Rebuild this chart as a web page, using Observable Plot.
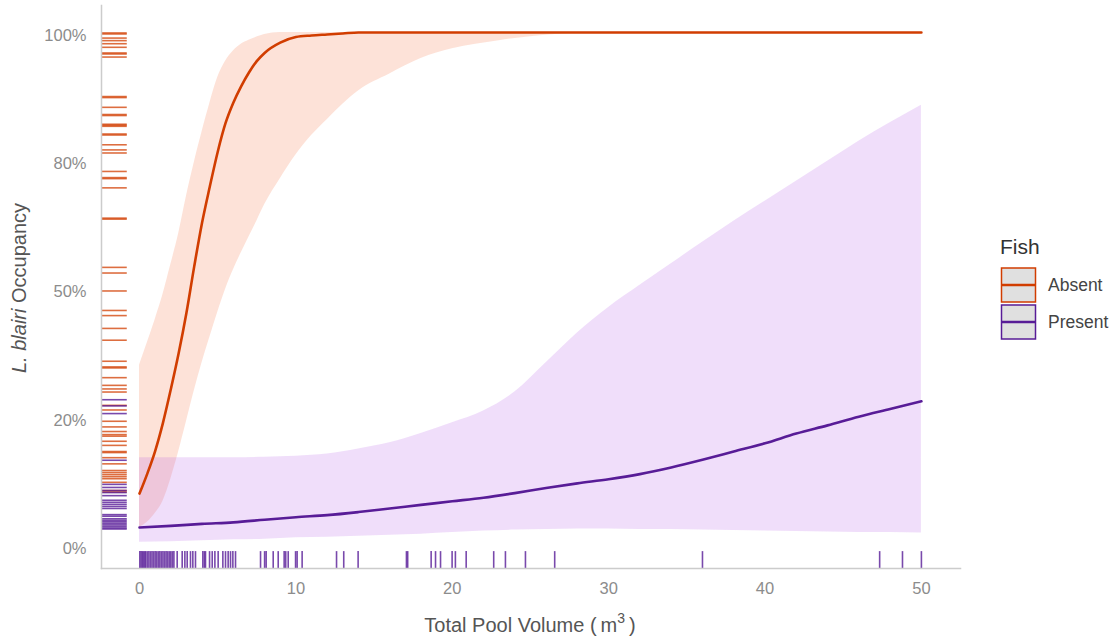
<!DOCTYPE html>
<html><head><meta charset="utf-8">
<script src="https://cdn.jsdelivr.net/npm/d3@7"></script>
<script src="https://cdn.jsdelivr.net/npm/@observablehq/plot@0.6"></script>
<style>
body{margin:0;background:#fff;}
#chart{width:1115px;height:640px;position:relative;}
</style></head><body><div id="chart"></div>
<script>
// ---------- data ----------
const groups = ["Absent", "Present"];
const lineColors = ["#D13D00", "#581C97"];
const ribbonColors = ["#F5703A", "#B55CE8"];

const xTicks = [0, 10, 20, 30, 40, 50];
const yTicks = [0, 0.25, 0.5, 0.75, 1];
const yTickLabels = ["0%", "20%", "50%", "80%", "100%"];

// Fish absent: fitted curve and ribbon
const absentX   = [0, 0.5, 1, 1.5, 2, 2.5, 3, 3.5, 4, 4.5, 5, 5.5, 6, 6.5, 7, 7.5, 8, 9, 10, 11, 12, 13, 14, 16, 18, 20, 23, 27, 30, 40, 50];
const absentFit = [0.107, 0.146, 0.190, 0.245, 0.310, 0.380, 0.459, 0.550, 0.635, 0.706, 0.773, 0.829, 0.869, 0.901, 0.928, 0.950, 0.966, 0.986, 0.997, 1.000, 1.002, 1.004, 1.006, 1.006, 1.006, 1.006, 1.006, 1.006, 1.006, 1.006, 1.006];
const absentHi  = [0.357, 0.401, 0.446, 0.495, 0.553, 0.613, 0.686, 0.752, 0.812, 0.868, 0.918, 0.950, 0.970, 0.983, 0.991, 0.997, 1.002, 1.006, 1.006, 1.006, 1.006, 1.006, 1.006, 1.006, 1.006, 1.006, 1.006, 1.006, 1.006, 1.006, 1.006];
const absentLo  = [0.041, 0.051, 0.068, 0.092, 0.135, 0.188, 0.247, 0.307, 0.362, 0.412, 0.460, 0.505, 0.543, 0.576, 0.607, 0.638, 0.670, 0.721, 0.767, 0.805, 0.836, 0.866, 0.892, 0.925, 0.955, 0.974, 0.990, 1.003, 1.006, 1.006, 1.006];

// Fish present: fitted curve and ribbon
const presentX   = [0, 2, 4, 6, 8, 10, 12, 14, 16, 18, 20, 22, 24, 26, 28, 30, 32, 34, 36, 38, 40, 42, 44, 46, 48, 50];
const presentFit = [0.041, 0.044, 0.048, 0.051, 0.056, 0.061, 0.065, 0.071, 0.078, 0.085, 0.092, 0.099, 0.108, 0.118, 0.127, 0.135, 0.145, 0.158, 0.173, 0.189, 0.205, 0.224, 0.240, 0.257, 0.272, 0.287];
const presentHi  = [0.177, 0.177, 0.177, 0.177, 0.178, 0.180, 0.184, 0.194, 0.206, 0.224, 0.245, 0.268, 0.305, 0.362, 0.420, 0.470, 0.513, 0.555, 0.597, 0.638, 0.677, 0.716, 0.755, 0.794, 0.830, 0.864];
const presentLo  = [0.012, 0.013, 0.015, 0.017, 0.018, 0.021, 0.022, 0.024, 0.026, 0.028, 0.031, 0.034, 0.036, 0.037, 0.038, 0.038, 0.037, 0.037, 0.036, 0.035, 0.034, 0.033, 0.032, 0.031, 0.031, 0.030];

// left rug (occupancy values)
const absentRug = [1.005, 1.003, 0.995, 0.990, 0.984, 0.977, 0.966, 0.964, 0.958, 0.881, 0.879, 0.860, 0.846, 0.844, 0.827, 0.825, 0.823, 0.808, 0.806, 0.787, 0.777, 0.771, 0.735, 0.723, 0.721, 0.703, 0.644, 0.642, 0.548, 0.537, 0.502, 0.464, 0.454, 0.429, 0.406, 0.365, 0.354, 0.352, 0.333, 0.318, 0.311, 0.305, 0.279, 0.270, 0.248, 0.237, 0.228, 0.222, 0.219, 0.209, 0.201, 0.189, 0.187, 0.177, 0.165, 0.152, 0.148, 0.144, 0.140, 0.136, 0.129, 0.113, 0.110];
const presentRug = [0.290, 0.278, 0.263, 0.172, 0.125, 0.119, 0.113, 0.109, 0.103, 0.094, 0.090, 0.086, 0.082, 0.078, 0.066, 0.063, 0.058, 0.055, 0.052, 0.049, 0.046, 0.043, 0.040, 0.038];

// bottom rug (pool volumes)
const volumeRug = [0.02, 0.1, 0.18, 0.25, 0.33, 0.4, 0.5, 0.6, 0.7, 0.8, 0.9, 1.0, 1.1, 1.2, 1.3, 1.4, 1.5, 1.6, 1.7, 1.8, 1.9, 2.0, 2.1, 2.2,
  2.41, 2.73, 2.90, 3.05, 3.26, 3.41, 3.58, 4.05, 4.15, 4.22, 4.48, 4.65, 4.82, 5.03, 5.33, 5.50, 5.67, 5.82, 5.97, 6.14,
  7.74, 8.0, 8.1, 8.55, 8.87, 9.25, 9.35, 9.51, 9.98, 10.08, 10.40, 12.60, 13.06, 13.98, 17.07, 17.15, 18.65, 18.93, 19.25,
  19.99, 20.2, 20.89, 22.65, 23.40, 24.68, 26.55, 36.0, 47.33, 48.79, 50.0];

// ---------- build tables ----------
const absentTable = absentX.map((x, i) => ({x, fit: absentFit[i], lo: absentLo[i], hi: absentHi[i]}));
const presentTable = presentX.map((x, i) => ({x, fit: presentFit[i], lo: presentLo[i], hi: presentHi[i]}));

const xDomain = [-2.43, 52.5];
const yDomain = [-0.039, 1.0585];
const rugX2 = xDomain[0] + 0.03 * (xDomain[1] - xDomain[0]);
const rugY2 = yDomain[0] + 0.03 * (yDomain[1] - yDomain[0]);
const font = '"Liberation Sans", Arial, Helvetica, sans-serif';
const curve = "monotone-x";

const plot = Plot.plot({
  width: 1115, height: 640,
  marginLeft: 101, marginRight: 155, marginTop: 5, marginBottom: 72,
  style: {fontFamily: font, fontSize: "16.5px", color: "#8c8c8c", background: "#fff", overflow: "visible"},
  x: {domain: xDomain, ticks: xTicks, tickSize: 0, tickPadding: 14, label: null},
  y: {domain: yDomain, ticks: yTicks, tickFormat: d => yTickLabels[yTicks.indexOf(d)], tickSize: 0, tickPadding: 15, label: null},
  marks: [
    Plot.areaY(absentTable, {x: "x", y1: "lo", y2: "hi", fill: ribbonColors[0], fillOpacity: 0.2, curve}),
    Plot.areaY(presentTable, {x: "x", y1: "lo", y2: "hi", fill: ribbonColors[1], fillOpacity: 0.2, curve}),
    Plot.line(absentTable, {x: "x", y: "fit", stroke: lineColors[0], strokeWidth: 2.6, curve}),
    Plot.line(presentTable, {x: "x", y: "fit", stroke: lineColors[1], strokeWidth: 2.6, curve}),
    Plot.ruleY(absentRug, {y: d => d, x1: xDomain[0], x2: rugX2, stroke: lineColors[0], strokeWidth: 1.6, strokeOpacity: 0.75}),
    Plot.ruleY(presentRug, {y: d => d, x1: xDomain[0], x2: rugX2, stroke: lineColors[1], strokeWidth: 1.6, strokeOpacity: 0.8}),
    Plot.ruleX(volumeRug, {x: d => d, y1: yDomain[0], y2: rugY2, stroke: lineColors[1], strokeWidth: 1.6, strokeOpacity: 0.8}),
    Plot.frame({anchor: "left", stroke: "#cccccc", strokeWidth: 1.5}),
    Plot.frame({anchor: "bottom", stroke: "#cccccc", strokeWidth: 1.5})
  ]
});

document.getElementById("chart").appendChild(plot);

// ---------- axis titles & legend ----------
const svg = d3.select(plot);
const yt = svg.append("text")
  .attr("transform", "translate(26,288) rotate(-90)")
  .attr("text-anchor", "middle")
  .attr("font-family", font).attr("font-size", 20).attr("fill", "#555");
yt.append("tspan").attr("font-style", "italic").text("L. blairi");
yt.append("tspan").text(" Occupancy");

const xt = svg.append("text")
  .attr("x", 530).attr("y", 632)
  .attr("text-anchor", "middle")
  .attr("font-family", font).attr("font-size", 20).attr("fill", "#555");
xt.append("tspan").text("Total Pool Volume (\u2009m");
xt.append("tspan").attr("font-size", 14).attr("dy", -9).text("3");
xt.append("tspan").attr("dy", 9).text("\u2009)");

const lg = svg.append("g").attr("font-family", font).attr("text-anchor", "start");
lg.append("text").attr("x", 1000).attr("y", 254).attr("font-size", 21).attr("fill", "#333").attr("text-anchor", "start").text("Fish");
groups.forEach((g, i) => {
  const top = 268 + i * 37;
  lg.append("rect").attr("x", 1001.5).attr("y", top).attr("width", 34).attr("height", 34)
    .attr("fill", "#e0e0e0").attr("stroke", lineColors[i]).attr("stroke-width", 1.5);
  lg.append("line").attr("x1", 1002).attr("x2", 1035).attr("y1", top + 17).attr("y2", top + 17)
    .attr("stroke", lineColors[i]).attr("stroke-width", 2.6);
  lg.append("text").attr("x", 1048).attr("y", top + 23).attr("font-size", 17.5).attr("fill", "#444").attr("text-anchor", "start").text(g);
});
</script>
</body></html>
